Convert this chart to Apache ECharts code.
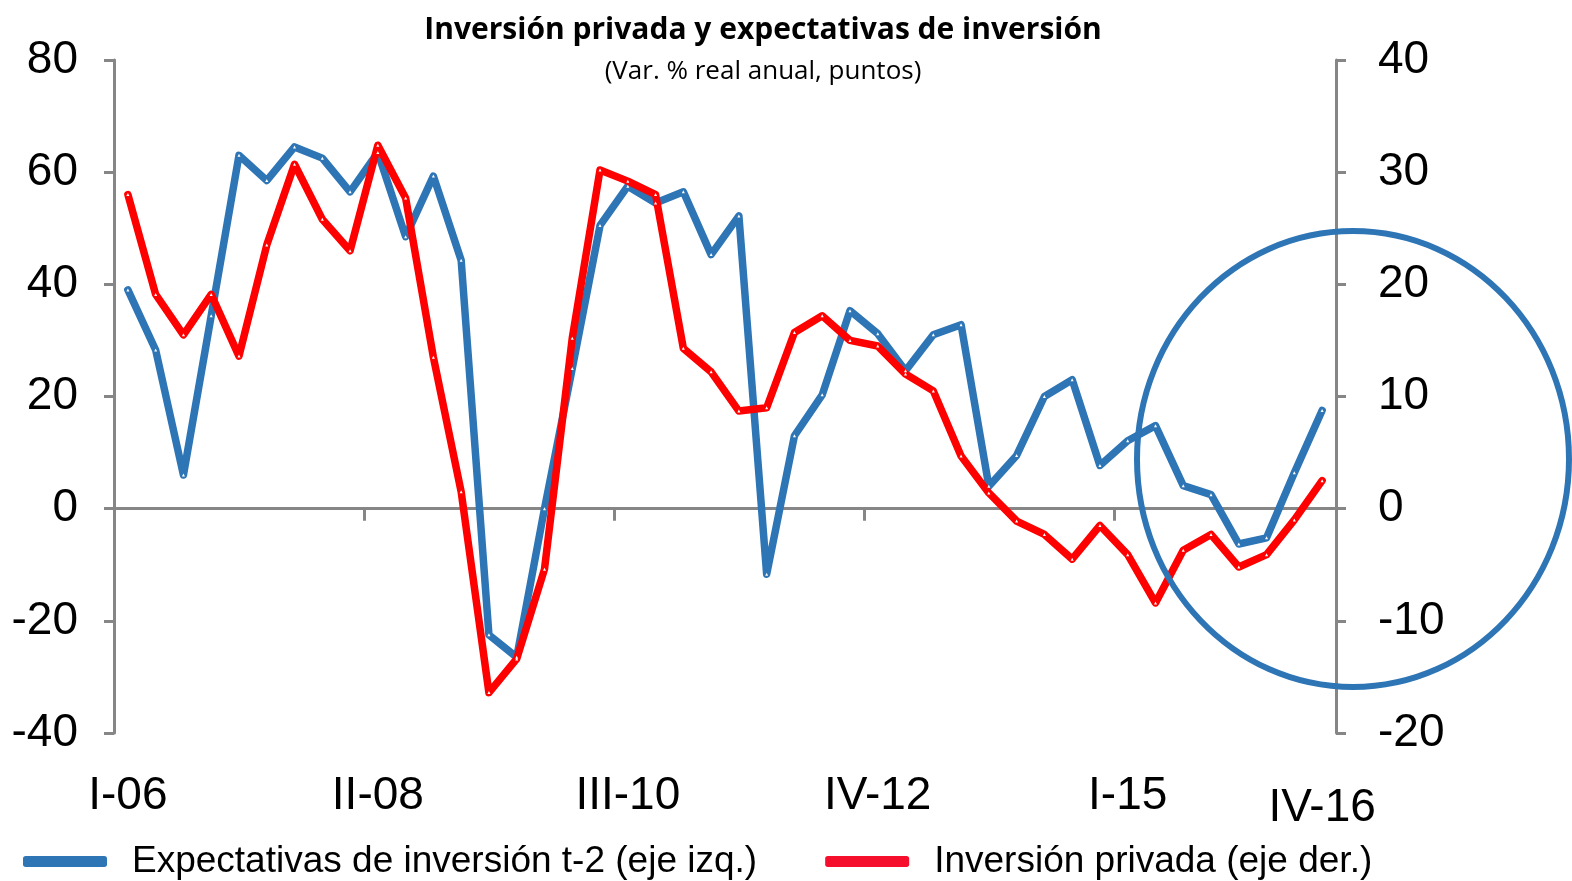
<!DOCTYPE html>
<html>
<head>
<meta charset="utf-8">
<script src="https://cdn.jsdelivr.net/npm/echarts@6/dist/echarts.min.js"></script>
<style>
  html, body { margin: 0; padding: 0; background: #fff; }
  #chart { width: 1572px; height: 881px; }
</style>
</head>
<body>
<div id="chart"></div>
<script>
// Trimestres I-06 … IV-16
const years = ["06", "07", "08", "09", "10", "11", "12", "13", "14", "15", "16"];
const quarters = ["I", "II", "III", "IV"];
const categories = years.flatMap((y) => quarters.map((q) => q + "-" + y));
const shownLabels = ["I-06", "II-08", "III-10", "IV-12", "I-15", "IV-16"];

// Expectativas de inversión t-2 (eje izq.)
const expectativas = [
  39, 28.3, 6, 34.4, 63, 58.5, 64.5, 62.5, 56.5, 63.5, 48.5,
  59.3, 44.3, -22.5, -26.5, 0, 25, 50.5, 57.5, 54.5, 56.5, 45.3,
  52.2, -11.7, 13, 20.3, 35.3, 31.2, 24.6, 31, 32.8, 4, 9.5,
  20, 23, 7.7, 12.1, 14.8, 4.1, 2.5, -6.3, -5.2, 6.4, 17.5,
];

// Inversión privada (eje der.)
const inversion = [
  28, 19.1, 15.5, 19.1, 13.6, 23.5, 30.7, 25.8, 23, 32.4, 27.7,
  13.5, 1.5, -16.4, -13.4, -5.4, 15.2, 30.2, 29.2, 28, 14.3, 12.2,
  8.7, 9, 15.7, 17.2, 15, 14.5, 12, 10.5, 4.7, 1.4, -1.1,
  -2.3, -4.5, -1.5, -4.1, -8.4, -3.7, -2.3, -5.2, -4.1, -1, 2.5,
];

const BLUE = "#2E75B6";
const RED = "#FF0000";
const GREY = "#868686";
const FONT = "'Liberation Sans', Arial, sans-serif";

const chart = echarts.init(document.getElementById("chart"));

const lineSeries = (name, data, color, yAxisIndex) => ({
  name,
  type: "line",
  data,
  yAxisIndex,
  symbol: "triangle",
  symbolSize: 3,
  showSymbol: true,
  itemStyle: { color: "#fff", borderWidth: 0 },
  lineStyle: { color, width: 7.5, join: "round", cap: "round" },
  emphasis: { disabled: true },
  animation: false,
});

chart.setOption({
  backgroundColor: "#fff",
  title: {
    text: "Inversión privada y expectativas de inversión",
    subtext: "(Var. % real anual, puntos)",
    left: 758,
    top: 10,
    textAlign: "center",
    itemGap: 14,
    textStyle: { fontFamily: "'Open Sans', sans-serif", fontWeight: 700, fontSize: 30, color: "#000" },
    subtextStyle: { fontFamily: "'Open Sans', sans-serif", fontSize: 26, color: "#000" },
  },
  legend: {
    bottom: -4,
    left: 18,
    itemWidth: 84,
    itemHeight: 11,
    itemGap: 68,
    icon: "roundRect",
    textStyle: { fontFamily: FONT, fontSize: 37, color: "#000", padding: [0, 0, 0, 20] },
    data: [
      { name: "Expectativas de inversión t-2 (eje izq.)", itemStyle: { color: BLUE } },
      { name: "Inversión privada (eje der.)", itemStyle: { color: "#F50F2D" } },
    ],
  },
  grid: { left: 114, right: 236, top: 60, height: 673 },
  xAxis: [
    {
      type: "category",
      data: categories,
      boundaryGap: true,
      axisLine: { onZero: true, onZeroAxisIndex: 0, lineStyle: { color: GREY, width: 3 } },
      axisTick: { show: true, interval: 8, length: 12, lineStyle: { color: GREY, width: 3 } },
      axisLabel: { show: false },
      splitLine: { show: false },
    },
    {
      type: "category",
      data: categories,
      position: "bottom",
      boundaryGap: true,
      axisLine: { show: false, onZero: false },
      axisTick: { show: false },
      splitLine: { show: false },
      axisLabel: {
        interval: (i, v) => shownLabels.includes(v),
        margin: 40,
        fontFamily: FONT,
        fontSize: 46,
        color: "#000",
        formatter: (v) => (v === "IV-16" ? "{low|" + v + "}" : v),
        rich: { low: { fontFamily: FONT, fontSize: 46, color: "#000", padding: [12, 0, 0, 0] } },
      },
    },
  ],
  yAxis: [
    {
      type: "value",
      min: -40,
      max: 80,
      interval: 20,
      position: "left",
      axisLine: { show: true, lineStyle: { color: GREY, width: 3 } },
      axisTick: { show: true, length: 10, lineStyle: { color: GREY, width: 3 } },
      axisLabel: { margin: 36, fontFamily: FONT, fontSize: 46, color: "#000" },
      splitLine: { show: false },
    },
    {
      type: "value",
      min: -20,
      max: 40,
      interval: 10,
      position: "right",
      axisLine: { show: true, lineStyle: { color: GREY, width: 3 } },
      axisTick: { show: true, length: 10, lineStyle: { color: GREY, width: 3 } },
      axisLabel: { margin: 42, fontFamily: FONT, fontSize: 46, color: "#000" },
      splitLine: { show: false },
    },
  ],
  series: [
    lineSeries("Expectativas de inversión t-2 (eje izq.)", expectativas, BLUE, 0),
    lineSeries("Inversión privada (eje der.)", inversion, RED, 1),
  ],
  graphic: [
    {
      type: "ellipse",
      shape: { cx: 1353, cy: 459, rx: 216, ry: 228 },
      style: { fill: "none", stroke: BLUE, lineWidth: 6 },
      z: 100,
      silent: true,
    },
  ],
});
</script>
</body>
</html>
